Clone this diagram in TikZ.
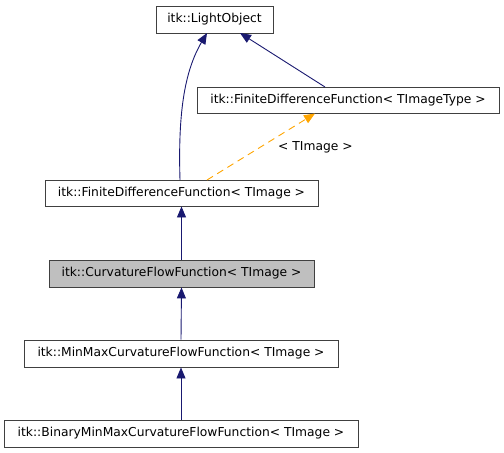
\documentclass[tikz,border=0pt]{standalone}
\usepackage{fontspec}
\setmainfont{DejaVu Sans}
\usetikzlibrary{arrows.meta}
\definecolor{edgeblue}{HTML}{191970}
\definecolor{edgeorange}{HTML}{FFA500}
\definecolor{boxgray}{HTML}{BFBFBF}
\tikzset{
  cls/.style={draw=black!75, line width=0.9pt, fill=white, inner sep=0pt, font=\fontsize{12.3}{14}\selectfont, anchor=center},
  inh/.style={draw=edgeblue, line width=0.9pt, -{Triangle[length=11pt,width=9pt,fill=edgeblue]}},
  tmpl/.style={draw=edgeorange, line width=0.9pt, dash pattern=on 7pt off 5pt, -{Triangle[length=11pt,width=9pt,fill=edgeorange]}},
}
\begin{document}
\begin{tikzpicture}[x=1pt,y=-1pt]
\useasboundingbox (0,0) rectangle (504,453);
\node[cls, minimum width=117pt, minimum height=27pt] (lo) at (214.5,19.5) {itk::LightObject};
\node[cls, minimum width=302pt, minimum height=26pt] (fdft) at (348,100) {itk::FiniteDifferenceFunction< TImageType >};
\node[cls, minimum width=273pt, minimum height=26pt] (fdf) at (181.5,193) {itk::FiniteDifferenceFunction< TImage >};
\node[cls, fill=boxgray, minimum width=265pt, minimum height=27pt] (cff) at (181.5,273.5) {itk::CurvatureFlowFunction< TImage >};
\node[cls, minimum width=314pt, minimum height=27pt] (mm) at (181,353.5) {itk::MinMaxCurvatureFlowFunction< TImage >};
\node[cls, minimum width=354pt, minimum height=27pt] (bmm) at (181,433.5) {itk::BinaryMinMaxCurvatureFlowFunction< TImage >};
\coordinate (c1) at (180,180);
\coordinate (c2) at (207,33);
\coordinate (c3) at (325,87);
\coordinate (c4) at (240,33);
\coordinate (c5) at (207,180);
\coordinate (c6) at (315,113.5);
\draw[inh] (c1) .. controls (178,115) and (184,72) .. (c2);
\draw[inh] (c3) -- (c4);
\draw[tmpl] (c5) -- (c6) node[pos=0.55, right, xshift=8pt, yshift=-4pt, font=\fontsize{12.3}{14}\selectfont, text=black] {< TImage >};
\draw[inh] (cff.north) -- (fdf.south);
\draw[inh] (mm.north) -- (cff.south);
\draw[inh] (bmm.north) -- (mm.south);
\end{tikzpicture}
\end{document}
